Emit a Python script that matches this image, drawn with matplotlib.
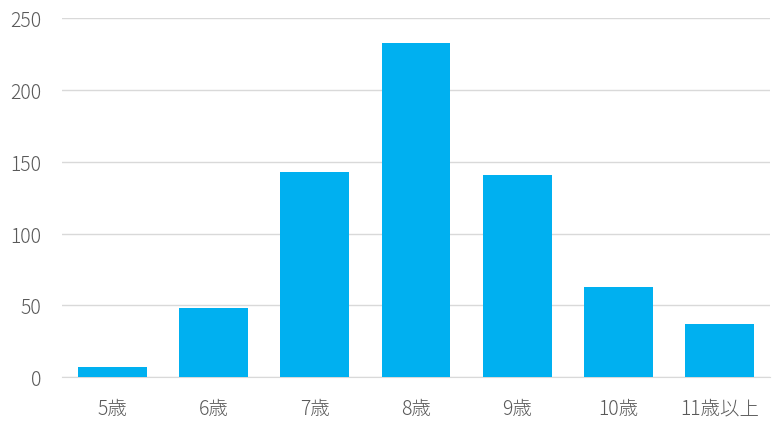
import matplotlib.pyplot as plt

plt.rcParams['font.family'] = ['Noto Sans CJK JP', 'DejaVu Sans']

ages = ["5歳", "6歳", "7歳", "8歳", "9歳", "10歳", "11歳以上"]
counts = [7, 48, 143, 233, 141, 63, 37]
yticks = [0, 50, 100, 150, 200, 250]

fig = plt.figure(figsize=(7.83, 4.31), dpi=100)
ax = fig.add_axes([62 / 783, 1 - 378 / 431, (770 - 62) / 783, (378 - 19.3) / 431])

x = range(len(ages))
ax.bar(x, counts, width=0.68, color="#00B0F0", zorder=3)

ax.set_xlim(-0.5, len(ages) - 0.5)
ax.set_ylim(0, 250)
ax.set_yticks(yticks)
ax.set_xticks(list(x))
ax.set_xticklabels(ages)

ax.grid(axis="y", color="#D9D9D9", linewidth=1, zorder=0)
for s in ["top", "right", "left"]:
    ax.spines[s].set_visible(False)
ax.spines["bottom"].set_color("#D9D9D9")
ax.tick_params(axis="both", length=0, labelsize=14, colors="#595959")
ax.tick_params(axis="y", pad=15)
ax.tick_params(axis="x", pad=15)
for lbl in ax.get_xticklabels() + ax.get_yticklabels():
    lbl.set_fontweight("light")

fig.savefig("out.png", dpi=100)
